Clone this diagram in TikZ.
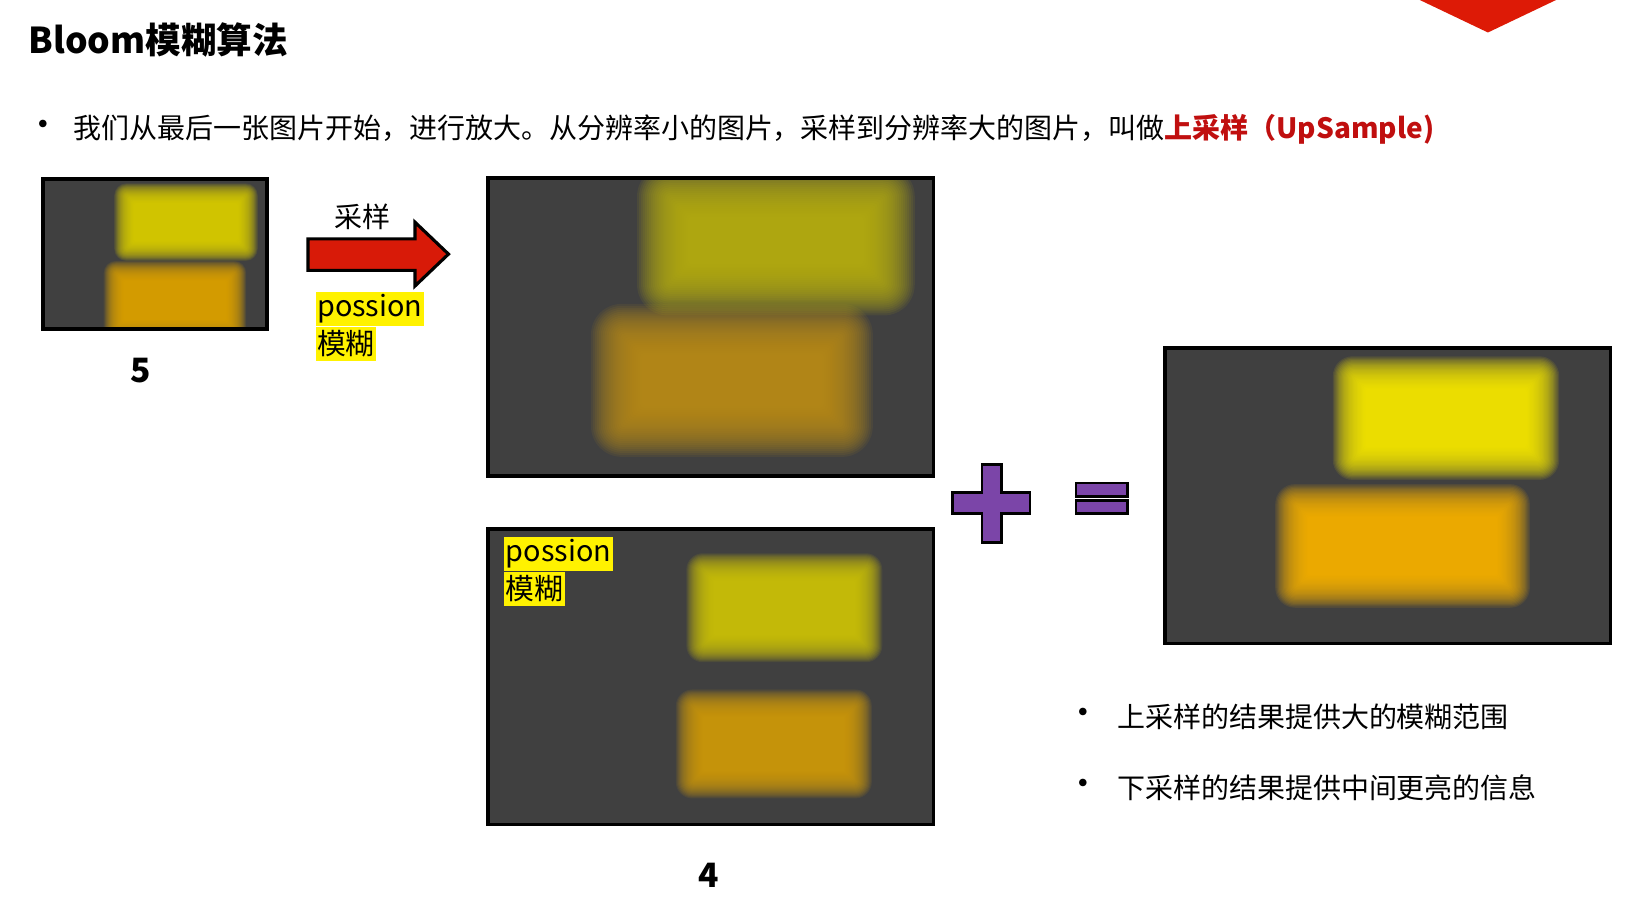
\documentclass[tikz,border=0pt]{standalone}
\usepackage{fontspec}
\setmainfont{Noto Sans CJK SC}
\usetikzlibrary{positioning}

\definecolor{boxgray}{HTML}{404040}
\definecolor{hlyellow}{HTML}{FFF200}
\definecolor{arrowred}{HTML}{D81A08}
\definecolor{titlered}{HTML}{C00F0F}
\definecolor{signpurple}{HTML}{7B45A8}
\definecolor{cornerred}{HTML}{DD1A06}
\definecolor{smallyellow}{HTML}{E2D500}
\definecolor{smallorange}{HTML}{E6A800}
\definecolor{upyellow}{HTML}{BDB510}
\definecolor{uporange}{HTML}{C19017}
\definecolor{downyellow}{HTML}{D4CA08}
\definecolor{downorange}{HTML}{D6A00A}
\definecolor{sumyellow}{HTML}{FFF000}
\definecolor{sumorange}{HTML}{FFB800}

% soft blurred rectangle: x1,y1,x2,y2,colour,spread
\newcommand{\glowrect}[6]{%
  \foreach \k in {0,...,26}{%
    \pgfmathsetmacro{\glowoff}{#6*(1-\k/15)}
    \pgfmathsetmacro{\glowrad}{0.9*max(\glowoff,0)+0.15*#6}
    \fill[#5, opacity=0.09, rounded corners=\glowrad pt]
      ({#1-\glowoff},{#2-\glowoff}) rectangle ({#3+\glowoff},{#4+\glowoff});
  }}

\tikzset{
  imgbox/.style={fill=boxgray, inner sep=0pt, outer sep=0pt},
  frame/.style={draw=black, line width=3.5pt},
  txt/.style={anchor=west, inner sep=0pt, font=\fontsize{26.7}{30}\selectfont},
  hlbox/.style={fill=hlyellow, anchor=north west, inner xsep=1.5pt, inner ysep=0pt,
    minimum height=33pt, font=\fontsize{27.5}{30}\selectfont},
  numlabel/.style={inner sep=0pt, font=\fontsize{32}{34}\selectfont\bfseries},
  signbar/.style={fill=signpurple, draw=black, line width=2.5pt},
}

\begin{document}
\begin{tikzpicture}[x=1pt,y=-1pt]

    % page
    \fill[white] (0,0) rectangle (1568,862);
    \useasboundingbox (0,0) rectangle (1568,862);
    \fill[cornerred] (1355,0) -- (1485,0) -- (1420,31) -- cycle;

    % draw heading and first bullet
    \node[anchor=west, inner sep=0pt, font=\fontsize{34}{36}\selectfont\bfseries] (title) at (27,38) {Bloom模糊算法};
    \node[txt, font=\fontsize{34}{36}\selectfont] (dotA) at (24,123) {•};
    \node[txt] (intro) at (70,123) {我们从最后一张图片开始，进行放大。从分辨率小的图片，采样到分辨率大的图片，叫做\textcolor{titlered}{\bfseries 上采样（UpSample)}};

    % small picture
    \node[imgbox, minimum width=214pt, minimum height=143pt] (img5) at (148,242.5) {};
    \begin{scope}
      \clip (img5.north west) rectangle (img5.south east);
      \glowrect{120}{186}{235}{238}{smallyellow}{11}
      \glowrect{110}{260}{224}{314}{smallorange}{11}
    \end{scope}
    \draw[frame] (img5.north west) rectangle (img5.south east);
    \node[numlabel] (num5) at (134,354) {5};

    % draw arrow
    \draw[fill=arrowred, line width=3pt, line join=miter] (294,228) -- (396,228) -- (396,212) -- (428,242.5)
      -- (396,273) -- (396,258) -- (294,258) -- cycle;
    \node[txt, anchor=center] (sampleLbl) at (346,207) {采样};
    \node[hlbox] (blurA1) at (301,278) {possion};
    \node[hlbox, below=0pt of blurA1.south west, anchor=north west] (blurA2) {模糊};

    % upsampled picture
    \node[imgbox, minimum width=425pt, minimum height=284pt] (img5up) at (678.5,312) {};
    \begin{scope}
      \clip (img5up.north west) rectangle (img5up.south east);
      \glowrect{592}{318}{805}{408}{uporange}{28}
      \glowrect{636}{186}{845}{273}{upyellow}{28}
    \end{scope}
    \draw[frame] (img5up.north west) rectangle (img5up.south east);

    % blurred picture
    \node[imgbox, minimum width=425pt, minimum height=282pt] (img4) at (678.5,646) {};
    \begin{scope}
      \clip (img4.north west) rectangle (img4.south east);
      \glowrect{670}{543}{827}{617}{downyellow}{15}
      \glowrect{660}{673}{817}{747}{downorange}{15}
    \end{scope}
    \draw[frame] (img4.north west) rectangle (img4.south east);
    \node[hlbox] (blurB1) at (481,512) {possion};
    \node[hlbox, below=0pt of blurB1.south west, anchor=north west] (blurB2) {模糊};
    \node[numlabel] (num4) at (676,835) {4};

    % draw signs
    \draw[signbar, line join=miter] (937,443) -- (956,443) -- (956,470) -- (983,470) -- (983,490) -- (956,490)
      -- (956,518) -- (937,518) -- (937,490) -- (909,490) -- (909,470) -- (937,470) -- cycle;
    \draw[signbar] (1027,461) rectangle (1076,474);
    \draw[signbar] (1027,477.5) rectangle (1076,490);

    % result picture
    \node[imgbox, minimum width=425pt, minimum height=282pt] (imgsum) at (1324.5,473) {};
    \begin{scope}
      \clip (imgsum.north west) rectangle (imgsum.south east);
      \glowrect{1235}{480}{1442}{562}{sumorange}{18}
      \glowrect{1290}{358}{1470}{440}{sumyellow}{18}
    \end{scope}
    \draw[frame] (imgsum.north west) rectangle (imgsum.south east);

    % draw notes
    \node[txt, font=\fontsize{34}{36}\selectfont] (dotB) at (1017,684) {•};
    \node[txt] (noteUp) at (1066,684) {上采样的结果提供大的模糊范围};
    \node[txt, font=\fontsize{34}{36}\selectfont] (dotC) at (1017,752) {•};
    \node[txt] (noteDown) at (1066,752) {下采样的结果提供中间更亮的信息};

\end{tikzpicture}
\end{document}
